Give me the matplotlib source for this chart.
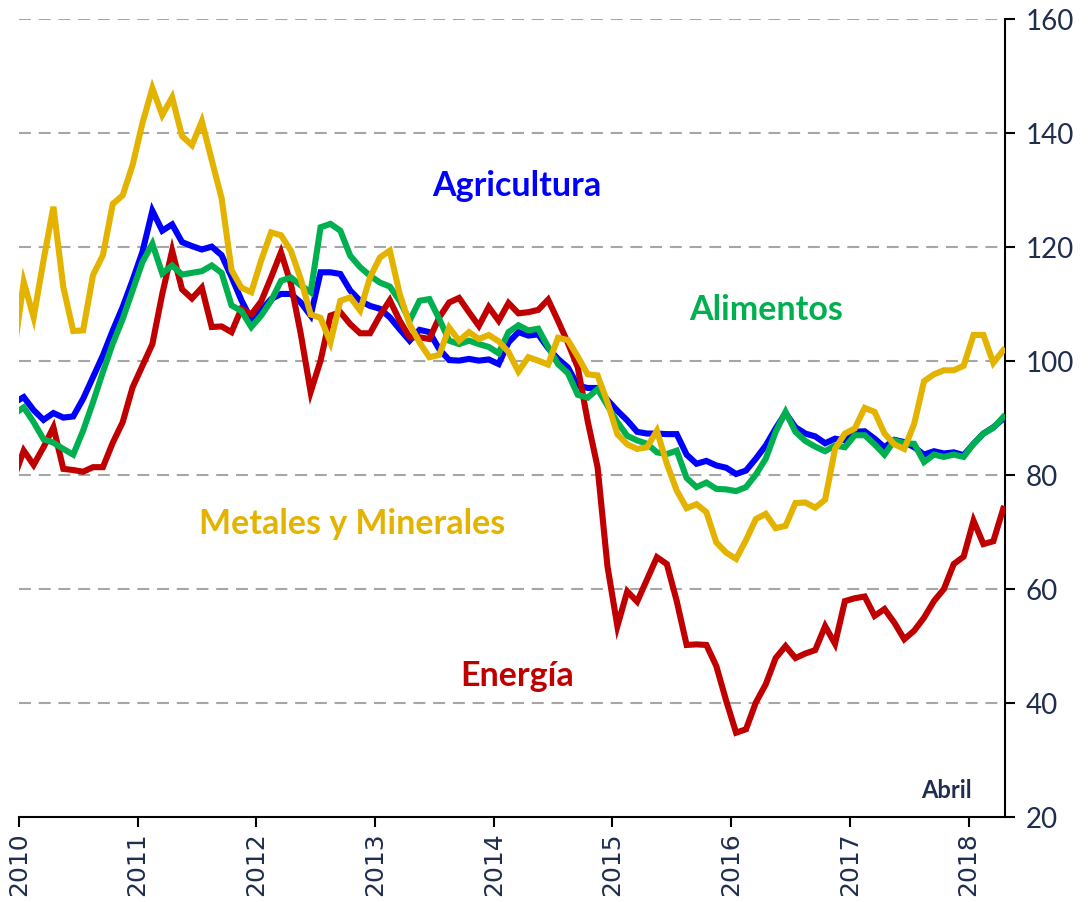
import matplotlib
matplotlib.use("Agg")
import matplotlib.pyplot as plt
import numpy as np
import pandas as pd

# Monthly index values, Dec 2009 .. Apr 2018 (first point sits just left of the axis)
months = pd.period_range("2009-12", "2018-04", freq="M")

agricultura = [
    92.7,
    93.7, 91.4, 89.7, 90.9, 90.1, 90.3, 93.4, 97.2, 101.0, 105.4, 109.5, 114.2,
    119.2, 126.4, 122.9, 124.0, 120.9, 120.2, 119.6, 120.1, 118.6, 114.8, 110.7, 107.3,
    108.9, 110.9, 111.8, 111.8, 110.3, 108.0, 115.6, 115.6, 115.3, 112.4, 110.6, 109.7,
    109.2, 107.7, 105.6, 103.6, 105.5, 105.1, 102.1, 100.2, 100.1, 100.4, 100.1, 100.3,
    99.5, 103.3, 105.1, 104.5, 104.7, 102.3, 100.4, 98.9, 95.7, 95.3, 95.3, 93.2,
    91.3, 89.6, 87.6, 87.3, 87.3, 87.2, 87.2, 83.6, 82.0, 82.5, 81.7, 81.3,
    80.2, 80.8, 82.9, 85.2, 88.2, 90.9, 88.4, 87.3, 86.8, 85.6, 86.4, 86.1,
    87.6, 87.7, 86.4, 84.9, 86.2, 85.8, 84.9, 83.6, 84.2, 83.8, 84.0, 83.5,
    85.5, 87.3, 88.4, 89.9,
]

alimentos = [
    90.7,
    91.9, 89.3, 86.3, 85.7, 84.6, 83.6, 87.8, 92.8, 98.1, 103.1, 107.4, 112.4,
    117.4, 120.6, 115.4, 116.8, 115.2, 115.5, 115.8, 116.8, 115.5, 109.8, 108.8, 106.0,
    108.0, 110.6, 114.1, 114.7, 113.3, 112.1, 123.5, 124.1, 122.9, 118.5, 116.5, 115.0,
    113.8, 113.1, 110.6, 107.1, 110.6, 110.9, 107.4, 103.6, 103.0, 103.6, 103.0, 102.5,
    101.4, 105.1, 106.3, 105.4, 105.7, 102.5, 99.5, 97.9, 94.1, 93.6, 95.1, 92.2,
    89.3, 86.9, 86.1, 85.5, 84.0, 83.7, 84.3, 79.5, 77.9, 78.7, 77.6, 77.5,
    77.2, 77.9, 80.1, 82.9, 87.6, 91.1, 87.6, 86.0, 85.0, 84.2, 85.2, 84.9,
    87.0, 87.0, 85.4, 83.6, 86.1, 85.6, 85.5, 82.3, 83.6, 83.2, 83.6, 83.2,
    85.5, 87.3, 88.3, 90.2,
]

energia = [
    79.5,
    84.3, 81.8, 84.9, 88.4, 81.1, 80.9, 80.6, 81.4, 81.4, 85.7, 89.3, 95.4,
    99.2, 103.0, 111.8, 119.4, 112.6, 111.0, 112.9, 106.0, 106.1, 105.1, 109.2, 108.2,
    110.5, 114.7, 119.1, 113.6, 104.8, 94.6, 100.1, 108.0, 108.6, 106.5, 104.9, 104.9,
    108.0, 110.7, 107.1, 104.2, 104.2, 103.9, 107.7, 110.3, 111.1, 108.6, 106.2, 109.5,
    107.1, 110.2, 108.4, 108.6, 109.0, 110.8, 107.1, 103.2, 98.9, 89.5, 81.4, 64.0,
    53.5, 59.6, 57.8, 61.7, 65.6, 64.4, 57.9, 50.2, 50.3, 50.2, 46.5, 40.4,
    34.8, 35.4, 40.1, 43.3, 47.9, 50.0, 47.9, 48.7, 49.3, 53.5, 50.4, 57.9,
    58.4, 58.7, 55.3, 56.5, 54.1, 51.2, 52.7, 55.0, 57.9, 60.0, 64.4, 65.7,
    72.0, 67.9, 68.4, 74.1,
]

metales = [
    101.5,
    113.9, 107.7, 117.7, 127.1, 113.0, 105.3, 105.4, 115.1, 118.6, 127.6, 129.1, 134.4,
    141.8, 147.9, 143.2, 146.3, 139.5, 137.9, 142.1, 135.3, 128.6, 116.0, 112.9, 112.1,
    117.7, 122.6, 122.1, 119.4, 114.4, 108.2, 107.6, 103.3, 110.6, 111.2, 108.9, 114.7,
    118.2, 119.4, 111.8, 106.5, 103.3, 100.7, 101.1, 105.9, 103.6, 105.1, 103.9, 104.6,
    103.5, 101.6, 98.2, 100.7, 100.1, 99.4, 104.1, 103.7, 100.8, 97.7, 97.5, 92.8,
    87.2, 85.4, 84.6, 84.9, 87.8, 82.0, 77.3, 74.2, 74.9, 73.5, 68.2, 66.4,
    65.3, 68.6, 72.3, 73.2, 70.7, 71.1, 75.1, 75.2, 74.3, 75.7, 84.6, 87.3,
    88.2, 91.8, 91.1, 87.3, 85.4, 84.6, 89.0, 96.5, 97.7, 98.4, 98.4, 99.2,
    104.6, 104.6, 99.7, 101.9,
]

years = list(range(2010, 2019))
yticks = [20, 40, 60, 80, 100, 120, 140, 160]

# (series, colour, label, label x in months, label y)
series = [
    (agricultura, "#0000FF", "Agricultura", 50.3, 130.7),
    (energia, "#C00000", "Energía", 50.4, 44.7),
    (alimentos, "#00B050", "Alimentos", 75.5, 108.9),
    (metales, "#E3B300", "Metales y Minerales", 33.7, 71.4),
]

navy = "#1F2D4E"
plt.rcParams["lines.scale_dashes"] = False

fig = plt.figure(figsize=(10.89, 9.02), dpi=100)
ax = fig.add_axes([0.01726, 0.0942, 0.9056, 0.8844])

# x position: months since Jan 2010, at mid-month
x = np.array([(p.year - 2010) * 12 + p.month - 1 + 0.5 for p in months])

for y in yticks[1:]:
    ax.axhline(y, color="#A6A6A6", lw=1.5, linestyle=(0, (8.6, 5.6)), zorder=1)

for vals, col, label, tx, ty in series:
    ax.plot(x, vals, color=col, lw=4.4, solid_joinstyle="miter", zorder=3)
    ax.text(tx, ty, label, color=col, fontsize=24.5, fontweight="bold",
            family="Lato", ha="center", va="center")

ax.text(93.8, 24.6, "Abril", color=navy, fontsize=17, fontweight="bold",
        family="Lato", ha="center", va="center")

ax.set_xlim(0, 99.68)
ax.set_ylim(20, 160)

ax.set_xticks([(yr - 2010) * 12 for yr in years])
ax.set_xticklabels([str(yr) for yr in years], rotation=90, fontsize=18,
                   color=navy, family="DejaVu Sans")
ax.set_yticks(yticks)
ax.set_yticklabels([str(v) for v in yticks], fontsize=20, color=navy, family="Lato")

ax.yaxis.tick_right()
ax.tick_params(axis="y", direction="out", length=7, width=1.5, pad=8)
ax.tick_params(axis="x", direction="out", length=7, width=1.5, pad=4)

ax.spines["left"].set_visible(False)
ax.spines["top"].set_visible(False)
ax.spines["right"].set_linewidth(1.5)
ax.spines["bottom"].set_linewidth(1.5)

fig.savefig("out.png", dpi=100)
